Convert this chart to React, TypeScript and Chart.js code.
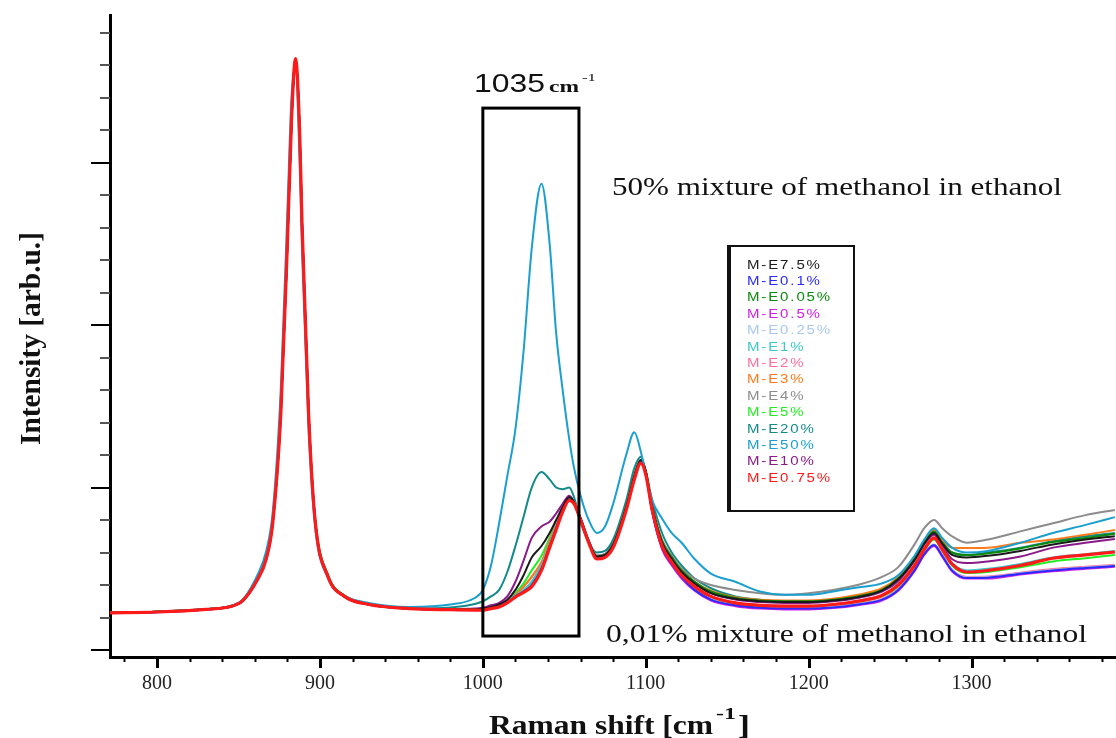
import React, { useEffect, useRef } from "react";
import { Chart, registerables } from "chart.js";

Chart.register(...registerables);

// Raman shift positions (cm-1) at which the spectra were read
const ramanShift = [
  770, 800, 830, 850, 862, 867, 871, 876, 880, 882.5, 885, 887.5, 889, 893, 897, 905, 915, 930, 955, 980, 995,
  1000, 1005, 1010, 1015, 1020, 1025, 1030, 1036, 1041, 1045, 1049, 1053, 1056, 1060, 1065, 1070, 1075, 1080, 1088, 1093, 1097, 1100,
  1104, 1110, 1116, 1122, 1130, 1140, 1155, 1170, 1185, 1200, 1215, 1230, 1245, 1255, 1265, 1271, 1277, 1282, 1288, 1297, 1310, 1330, 1350, 1370, 1388,
];

const seriesLabels = [
  "M-E7.5%", "M-E0.1%", "M-E0.05%", "M-E0.5%", "M-E0.25%", "M-E1%", "M-E2%",
  "M-E3%", "M-E4%", "M-E5%", "M-E20%", "M-E50%", "M-E10%", "M-E0.75%",
];

const seriesColors = [
  "#1a1a1a", "#2a2aff", "#0a8a0a", "#d21ee6", "#a9c8ee", "#3cc8c8", "#ff6f9a",
  "#ff7a1a", "#8c8c8c", "#22ee22", "#138a8a", "#1a9fd0", "#8a1a8a", "#ff1a1a",
];

const me7_5 = [
  0.229, 0.235, 0.251, 0.286, 0.44, 0.57, 0.79, 1.48, 2.52, 3.26, 3.62, 3.18, 2.6, 1.45, 0.8, 0.45, 0.33, 0.28, 0.256, 0.25, 0.25,
  0.255, 0.265, 0.28, 0.31, 0.37, 0.46, 0.57, 0.64, 0.72, 0.8, 0.88, 0.94, 0.91, 0.8, 0.67, 0.575, 0.585, 0.65, 0.88, 1.07, 1.17, 1.1,
  0.88, 0.66, 0.56, 0.48, 0.41, 0.35, 0.315, 0.3, 0.295, 0.295, 0.305, 0.325, 0.365, 0.435, 0.555, 0.655, 0.72, 0.655, 0.585, 0.57, 0.58, 0.61, 0.65, 0.68, 0.7,
];
const me0_1 = [
  0.227, 0.233, 0.249, 0.284, 0.44, 0.56, 0.78, 1.47, 2.5, 3.24, 3.63, 3.2, 2.62, 1.46, 0.8, 0.45, 0.33, 0.28, 0.254, 0.247, 0.246,
  0.248, 0.257, 0.268, 0.293, 0.33, 0.36, 0.4, 0.5, 0.64, 0.75, 0.86, 0.925, 0.905, 0.81, 0.67, 0.57, 0.58, 0.64, 0.87, 1.06, 1.16, 1.09,
  0.85, 0.63, 0.53, 0.45, 0.37, 0.31, 0.275, 0.26, 0.255, 0.255, 0.262, 0.28, 0.31, 0.37, 0.49, 0.59, 0.646, 0.58, 0.49, 0.443, 0.445, 0.47, 0.49, 0.505, 0.517,
];
const me0_05 = [
  0.23, 0.236, 0.252, 0.288, 0.45, 0.57, 0.79, 1.47, 2.51, 3.25, 3.63, 3.19, 2.61, 1.46, 0.81, 0.46, 0.335, 0.285, 0.258, 0.25, 0.248,
  0.248, 0.257, 0.268, 0.293, 0.33, 0.36, 0.4, 0.5, 0.64, 0.75, 0.86, 0.925, 0.905, 0.81, 0.67, 0.575, 0.585, 0.65, 0.88, 1.07, 1.17, 1.1,
  0.88, 0.67, 0.57, 0.49, 0.42, 0.36, 0.32, 0.305, 0.3, 0.3, 0.31, 0.33, 0.37, 0.44, 0.56, 0.66, 0.73, 0.66, 0.6, 0.585, 0.595, 0.625, 0.665, 0.69, 0.715,
];
const me0_5 = [
  0.228, 0.234, 0.25, 0.285, 0.44, 0.56, 0.78, 1.46, 2.49, 3.25, 3.64, 3.21, 2.63, 1.47, 0.8, 0.45, 0.33, 0.28, 0.255, 0.248, 0.246,
  0.247, 0.256, 0.266, 0.291, 0.328, 0.358, 0.395, 0.495, 0.635, 0.745, 0.855, 0.92, 0.9, 0.805, 0.665, 0.565, 0.575, 0.635, 0.865, 1.055, 1.155, 1.085,
  0.85, 0.62, 0.52, 0.44, 0.365, 0.305, 0.27, 0.255, 0.25, 0.25, 0.258, 0.276, 0.305, 0.365, 0.485, 0.585, 0.64, 0.575, 0.485, 0.44, 0.44, 0.465, 0.485, 0.5, 0.512,
];
const me0_25 = [
  0.228, 0.234, 0.25, 0.285, 0.44, 0.56, 0.78, 1.46, 2.5, 3.25, 3.63, 3.2, 2.62, 1.46, 0.8, 0.45, 0.33, 0.28, 0.255, 0.248, 0.246,
  0.248, 0.257, 0.268, 0.293, 0.33, 0.36, 0.4, 0.5, 0.64, 0.75, 0.86, 0.925, 0.905, 0.81, 0.67, 0.57, 0.58, 0.64, 0.87, 1.06, 1.16, 1.09,
  0.85, 0.63, 0.53, 0.45, 0.37, 0.31, 0.275, 0.262, 0.256, 0.256, 0.264, 0.282, 0.312, 0.372, 0.49, 0.59, 0.648, 0.582, 0.492, 0.446, 0.448, 0.472, 0.492, 0.508, 0.52,
];
const me1 = [
  0.228, 0.234, 0.25, 0.285, 0.44, 0.56, 0.78, 1.46, 2.5, 3.25, 3.64, 3.2, 2.62, 1.46, 0.8, 0.45, 0.33, 0.28, 0.255, 0.248, 0.247,
  0.25, 0.26, 0.27, 0.3, 0.335, 0.37, 0.42, 0.52, 0.65, 0.76, 0.86, 0.925, 0.905, 0.81, 0.67, 0.57, 0.58, 0.64, 0.87, 1.06, 1.16, 1.09,
  0.86, 0.64, 0.54, 0.46, 0.39, 0.33, 0.29, 0.277, 0.272, 0.272, 0.282, 0.302, 0.338, 0.405, 0.525, 0.625, 0.69, 0.625, 0.535, 0.49, 0.5, 0.53, 0.57, 0.59, 0.61,
];
const me2 = [
  0.228, 0.234, 0.25, 0.285, 0.44, 0.56, 0.78, 1.46, 2.5, 3.25, 3.64, 3.2, 2.62, 1.46, 0.8, 0.45, 0.33, 0.28, 0.255, 0.248, 0.246,
  0.25, 0.26, 0.27, 0.3, 0.335, 0.37, 0.42, 0.52, 0.65, 0.76, 0.86, 0.925, 0.905, 0.81, 0.67, 0.57, 0.58, 0.64, 0.87, 1.06, 1.16, 1.09,
  0.85, 0.63, 0.53, 0.45, 0.37, 0.31, 0.278, 0.264, 0.258, 0.258, 0.266, 0.284, 0.315, 0.375, 0.495, 0.595, 0.65, 0.585, 0.495, 0.45, 0.452, 0.476, 0.498, 0.512, 0.525,
];
const me3 = [
  0.229, 0.235, 0.251, 0.287, 0.445, 0.565, 0.785, 1.47, 2.51, 3.26, 3.63, 3.2, 2.61, 1.46, 0.8, 0.45, 0.332, 0.282, 0.257, 0.25, 0.249,
  0.25, 0.26, 0.272, 0.3, 0.34, 0.39, 0.45, 0.54, 0.67, 0.77, 0.86, 0.93, 0.91, 0.81, 0.67, 0.575, 0.585, 0.65, 0.88, 1.07, 1.17, 1.1,
  0.88, 0.67, 0.57, 0.49, 0.42, 0.365, 0.325, 0.31, 0.305, 0.305, 0.315, 0.34, 0.38, 0.45, 0.57, 0.67, 0.74, 0.68, 0.63, 0.628, 0.63, 0.66, 0.68, 0.71, 0.738,
];
const me4 = [
  0.229, 0.235, 0.251, 0.288, 0.445, 0.565, 0.785, 1.47, 2.5, 3.25, 3.62, 3.19, 2.62, 1.46, 0.81, 0.46, 0.335, 0.285, 0.26, 0.252, 0.25,
  0.25, 0.26, 0.272, 0.3, 0.34, 0.39, 0.45, 0.54, 0.67, 0.77, 0.86, 0.93, 0.91, 0.81, 0.675, 0.58, 0.59, 0.655, 0.885, 1.075, 1.17, 1.1,
  0.88, 0.68, 0.58, 0.5, 0.44, 0.4, 0.37, 0.35, 0.34, 0.35, 0.37, 0.4, 0.45, 0.51, 0.65, 0.75, 0.8, 0.75, 0.7, 0.66, 0.68, 0.73, 0.78, 0.83, 0.862,
];
const me5 = [
  0.228, 0.234, 0.25, 0.285, 0.44, 0.56, 0.78, 1.46, 2.5, 3.25, 3.64, 3.2, 2.62, 1.46, 0.8, 0.45, 0.33, 0.28, 0.255, 0.248, 0.247,
  0.25, 0.26, 0.272, 0.305, 0.35, 0.41, 0.49, 0.58, 0.69, 0.78, 0.87, 0.93, 0.91, 0.81, 0.67, 0.57, 0.58, 0.64, 0.87, 1.06, 1.16, 1.09,
  0.86, 0.64, 0.54, 0.46, 0.385, 0.325, 0.285, 0.272, 0.266, 0.266, 0.275, 0.295, 0.33, 0.39, 0.51, 0.61, 0.68, 0.61, 0.52, 0.474, 0.48, 0.51, 0.545, 0.565, 0.585,
];
const me20 = [
  0.229, 0.236, 0.252, 0.288, 0.45, 0.57, 0.8, 1.5, 2.55, 3.28, 3.62, 3.15, 2.57, 1.42, 0.79, 0.45, 0.335, 0.285, 0.255, 0.262, 0.283,
  0.3, 0.33, 0.37, 0.48, 0.64, 0.82, 1.0, 1.095, 1.05, 1.0, 0.99, 1.0, 0.94, 0.79, 0.66, 0.6, 0.61, 0.68, 0.92, 1.12, 1.19, 1.1,
  0.92, 0.72, 0.6, 0.52, 0.44, 0.38, 0.33, 0.31, 0.3, 0.3, 0.31, 0.33, 0.37, 0.44, 0.57, 0.67, 0.74, 0.67, 0.6, 0.585, 0.6, 0.63, 0.67, 0.7, 0.72,
];
const me50 = [
  0.228, 0.236, 0.252, 0.29, 0.47, 0.61, 0.85, 1.62, 2.7, 3.4, 3.58, 3.0, 2.45, 1.35, 0.76, 0.44, 0.335, 0.29, 0.265, 0.28, 0.32,
  0.37, 0.52, 0.78, 1.07, 1.36, 1.84, 2.47, 2.87, 2.5, 1.95, 1.6, 1.3, 1.12, 0.95, 0.8, 0.72, 0.76, 0.9, 1.2, 1.34, 1.22, 1.08,
  0.92, 0.81, 0.72, 0.66, 0.56, 0.47, 0.42, 0.36, 0.34, 0.34, 0.36, 0.385, 0.41, 0.46, 0.58, 0.68, 0.75, 0.69, 0.63, 0.6, 0.61, 0.66, 0.72, 0.77, 0.818,
];
const me10 = [
  0.229, 0.235, 0.251, 0.286, 0.445, 0.565, 0.79, 1.48, 2.52, 3.26, 3.62, 3.18, 2.6, 1.45, 0.8, 0.45, 0.332, 0.282, 0.257, 0.252, 0.255,
  0.26, 0.275, 0.29, 0.33, 0.42, 0.55, 0.69, 0.76, 0.79, 0.84, 0.9, 0.95, 0.91, 0.79, 0.67, 0.58, 0.59, 0.66, 0.89, 1.08, 1.17, 1.1,
  0.88, 0.66, 0.56, 0.48, 0.41, 0.35, 0.31, 0.295, 0.29, 0.29, 0.3, 0.32, 0.36, 0.425, 0.55, 0.65, 0.71, 0.64, 0.56, 0.535, 0.545, 0.575, 0.63, 0.66, 0.683,
];
const me0_75 = [
  0.228, 0.234, 0.25, 0.285, 0.44, 0.56, 0.78, 1.46, 2.5, 3.25, 3.64, 3.2, 2.62, 1.46, 0.8, 0.45, 0.33, 0.28, 0.255, 0.248, 0.246,
  0.246, 0.255, 0.265, 0.29, 0.326, 0.355, 0.39, 0.49, 0.63, 0.74, 0.85, 0.92, 0.9, 0.8, 0.66, 0.56, 0.57, 0.63, 0.86, 1.05, 1.15, 1.08,
  0.86, 0.64, 0.54, 0.46, 0.39, 0.33, 0.29, 0.275, 0.27, 0.27, 0.28, 0.3, 0.335, 0.4, 0.52, 0.62, 0.69, 0.62, 0.53, 0.48, 0.49, 0.52, 0.565, 0.585, 0.603,
];

const seriesValues = [me7_5, me0_1, me0_05, me0_5, me0_25, me1, me2, me3, me4, me5, me20, me50, me10, me0_75];

const xTickValues = [800, 900, 1000, 1100, 1200, 1300];
const xRange = [771.1, 1388.7];
const yRange = [-0.043, 3.908];
const highlightRange = [1000, 1059, 0.086, 3.335]; // x from, x to, y from, y to (data units)

const SERIF = '"Liberation Serif", "Times New Roman", serif';
const SANS = '"Liberation Sans", Arial, sans-serif';

function fitText(ctx: CanvasRenderingContext2D, text: string, x: number, y: number, font: string, width: number, color: string) {
  ctx.save();
  ctx.font = font;
  ctx.fillStyle = color;
  ctx.textAlign = "left";
  ctx.textBaseline = "alphabetic";
  const w = ctx.measureText(text).width;
  ctx.translate(x, y);
  ctx.scale(width / w, 1);
  ctx.fillText(text, 0, 0);
  ctx.restore();
}

const decorPlugin = {
  id: "decor",
  afterDraw(chart: any) {
    const ctx: CanvasRenderingContext2D = chart.ctx;
    const xs = chart.scales.x;
    const ys = chart.scales.y;
    const area = chart.chartArea;
    ctx.save();

    // y-axis tick marks
    for (let i = 0; i <= 19; i++) {
      const py = Math.round(ys.getPixelForValue(i * 0.2));
      const major = i % 5 === 0;
      ctx.strokeStyle = major ? "#000" : "#555";
      ctx.lineWidth = 2;
      ctx.beginPath();
      ctx.moveTo(area.left - (major ? 19 : 10), py);
      ctx.lineTo(area.left, py);
      ctx.stroke();
    }
    // x-axis tick marks
    for (let v = 780; v <= 1380; v += 20) {
      const px = Math.round(xs.getPixelForValue(v)) + 0.5;
      const major = v % 100 === 0;
      ctx.strokeStyle = "#000";
      ctx.lineWidth = major ? 3 : 2;
      ctx.beginPath();
      ctx.moveTo(px, area.bottom);
      ctx.lineTo(px, area.bottom + (major ? 11 : 5));
      ctx.stroke();
    }

    // highlight box around 1035 cm-1 band
    const bx1 = xs.getPixelForValue(highlightRange[0]);
    const bx2 = xs.getPixelForValue(highlightRange[1]);
    const by1 = ys.getPixelForValue(highlightRange[3]);
    const by2 = ys.getPixelForValue(highlightRange[2]);
    ctx.strokeStyle = "#000";
    ctx.lineWidth = 3;
    ctx.strokeRect(bx1, by1, bx2 - bx1, by2 - by1);

    // annotations
    fitText(ctx, "1035", 474, 92, `26px ${SANS}`, 71, "#111");
    fitText(ctx, "cm", 549, 92, `bold 17px ${SERIF}`, 30, "#111");
    fitText(ctx, "-1", 582, 81, `11px ${SERIF}`, 14, "#111");
    fitText(ctx, "50% mixture of methanol in ethanol", 612, 195, `25px ${SERIF}`, 450, "#111");
    fitText(ctx, "0,01% mixture of methanol in ethanol", 606, 642, `25px ${SERIF}`, 481, "#111");

    // axis titles
    fitText(ctx, "Raman shift [cm", 489, 734, `bold 27px ${SERIF}`, 224, "#111");
    fitText(ctx, "-1", 716, 719, `bold 17px ${SERIF}`, 20, "#111");
    fitText(ctx, "]", 738, 734, `bold 27px ${SERIF}`, 12, "#111");
    ctx.save();
    ctx.translate(40, 445);
    ctx.rotate(-Math.PI / 2);
    fitText(ctx, "Intensity [arb.u.]", 0, 0, `bold 29px ${SERIF}`, 213, "#111");
    ctx.restore();

    // legend
    const lx = 728, ly = 246, lw = 126, lh = 265;
    ctx.fillStyle = "#fff";
    ctx.fillRect(lx, ly, lw, lh);
    ctx.strokeStyle = "#111";
    ctx.lineWidth = 2;
    ctx.strokeRect(lx, ly, lw, lh);
    ctx.lineWidth = 4;
    ctx.beginPath();
    ctx.moveTo(lx + 1, ly);
    ctx.lineTo(lx + 1, ly + lh + 1);
    ctx.stroke();
    chart.data.datasets.forEach((ds: any, i: number) => {
      const ty = 268.5 + i * 16.4;
      ctx.save();
      ctx.font = `12px ${SANS}`;
      (ctx as any).letterSpacing = "1.5px";
      ctx.fillStyle = ds.borderColor;
      ctx.textBaseline = "alphabetic";
      ctx.translate(747, ty);
      ctx.scale(1.25, 1);
      ctx.fillText(ds.label, 0, 0);
      ctx.restore();
    });

    ctx.restore();
  },
};

export default function App() {
  const canvasRef = useRef<HTMLCanvasElement | null>(null);

  useEffect(() => {
    if (!canvasRef.current) return;
    const datasets = seriesLabels.map((label, i) => ({
      label,
      data: ramanShift.map((x, j) => ({ x, y: seriesValues[i][j] })),
      borderColor: seriesColors[i],
      backgroundColor: seriesColors[i],
      borderWidth: i === 13 ? 3.2 : 2,
      pointRadius: 0,
      cubicInterpolationMode: "monotone" as const,
      fill: false,
      order: i === 13 ? 0 : i === 11 ? 1 : 2,
    }));

    const chart = new Chart(canvasRef.current, {
      type: "line",
      data: { datasets },
      options: {
        animation: false,
        responsive: false,
        maintainAspectRatio: false,
        layout: { padding: { top: 15, left: 0, right: 0, bottom: 0 } },
        plugins: { legend: { display: false }, tooltip: { enabled: false } },
        scales: {
          x: {
            type: "linear",
            min: xRange[0],
            max: xRange[1],
            grid: { display: false, drawTicks: false },
            border: { display: true, color: "#000", width: 3 },
            afterBuildTicks: (s: any) => {
              s.ticks = xTickValues.map((v) => ({ value: v }));
            },
            afterFit: (s: any) => {
              s.height = 81;
            },
            ticks: {
              padding: 15,
              color: "#222",
              font: { family: SERIF, size: 20 },
              maxRotation: 0,
              callback: (v: any) => String(v),
            },
          },
          y: {
            type: "linear",
            min: yRange[0],
            max: yRange[1],
            grid: { display: false, drawTicks: false },
            border: { display: true, color: "#000", width: 3 },
            ticks: { display: false },
            afterFit: (s: any) => {
              s.width = 110;
            },
          },
        },
      },
      plugins: [decorPlugin],
    });
    return () => chart.destroy();
  }, []);

  return (
    <div style={{ position: "fixed", left: 0, top: 0, width: 1116, height: 738, background: "#fff" }}>
      <canvas ref={canvasRef} width={1116} height={738} style={{ width: 1116, height: 738, display: "block" }} />
    </div>
  );
}
